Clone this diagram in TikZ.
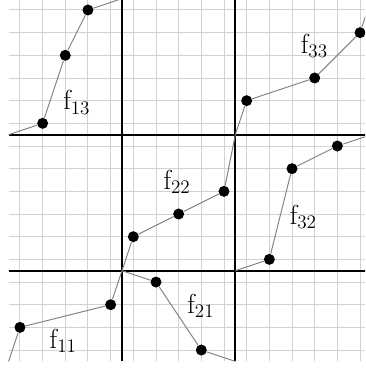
\documentclass[tikz,border=0pt]{standalone}
\usepackage{amsmath,amssymb}
\usepackage{xcolor}
\usepackage{tikz}
\usetikzlibrary{calc,positioning}

\tikzset{
  gridline/.style={gray!35,line width=0.6pt},
  axisline/.style={black,line width=1.3pt},
  mapline/.style={gray,line width=0.6pt},
  fdot/.style={circle,fill=black,inner sep=0pt,minimum size=6.9pt},
  flabel/.style={inner sep=1pt,font=\fontsize{18}{21}\selectfont}
}

\begin{document}
\begin{tikzpicture}[x=0.5cm,y=0.5cm]
\useasboundingbox (-5.38,-4.38) rectangle (10.72,11.94);
\clip (-5.38,-4.38) rectangle (10.72,11.94);
% grid, shifted by half a cell
\foreach \x in {-4.5,-3.5,...,10.5} \draw[gridline] (\x,-4)--(\x,12);
\foreach \y in {-3.5,-2.5,...,11.5} \draw[gridline] (-5,\y)--(11,\y);
% block boundaries
\draw[axisline] (-5,0)--(11,0);
\draw[axisline] (-5,6)--(11,6);
\draw[axisline] (0,-4)--(0,12);
\draw[axisline] (5,-4)--(5,12);
% block corners
\foreach \nm/\x/\y in {c00/-5/-4, c10/0/0, c20/5/-4, c21/5/0,
                      c31/11/6, c22/5/6, c02/-5/6, c12/0/12, c32/11/12}
  \coordinate (\nm) at (\x,\y);
% break points
\foreach \nm/\x/\y in {a11/-4.5/-2.5, b11/-0.5/-1.5,
                      a21/1.5/-0.5, b21/3.5/-3.5,
                      a22/0.5/1.5, b22/2.5/2.5, e22/4.5/3.5,
                      a32/6.5/0.5, b32/7.5/4.5, e32/9.5/5.5,
                      a13/-3.5/6.5, b13/-2.5/9.5, e13/-1.5/11.5,
                      a33/5.5/7.5, b33/8.5/8.5, e33/10.5/10.5}
  \node[fdot] (\nm) at (\x,\y) {};
% the pieces
\draw[mapline] (c00)--(a11)--(b11)--(c10);
\draw[mapline] (c10)--(a21)--(b21)--(c20);
\draw[mapline] (c10)--(a22)--(b22)--(e22)--(c22);
\draw[mapline] (c21)--(a32)--(b32)--(e32)--(c31);
\draw[mapline] (c02)--(a13)--(b13)--(e13)--(c12);
\draw[mapline] (c22)--(a33)--(b33)--(e33)--(c32);
% labels
\node[flabel] (l11) at (-2.59,-3.08) {$\mathrm{f}_{11}$};
\node[flabel] (l21) at (3.48,-1.55) {$\mathrm{f}_{21}$};
\node[flabel] (l22) at (2.43,3.9) {$\mathrm{f}_{22}$};
\node[flabel] (l32) at (8.0,2.38) {$\mathrm{f}_{32}$};
\node[flabel] (l13) at (-1.99,7.42) {$\mathrm{f}_{13}$};
\node[flabel] (l33) at (8.49,9.92) {$\mathrm{f}_{33}$};
\end{tikzpicture}
\end{document}
